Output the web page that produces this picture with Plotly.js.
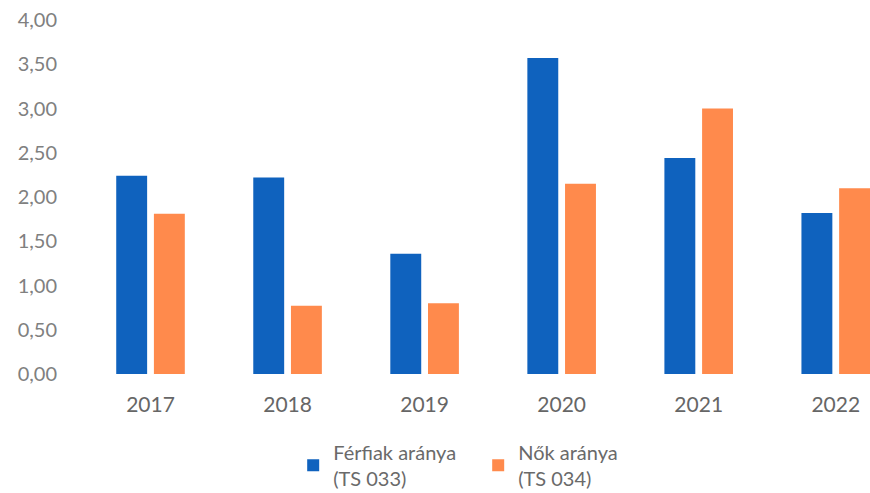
<!DOCTYPE html>
<html>
<head>
<meta charset="utf-8">
<script src="https://cdn.plot.ly/plotly-3.0.1.min.js"></script>
<style>
  html, body { margin: 0; padding: 0; background: #fff; }
  #myDiv { width: 870px; height: 493px; }
</style>
</head>
<body>
<div id="myDiv"></div>
<script>
var years = ['2017', '2018', '2019', '2020', '2021', '2022'];
var ferfiak = [2.24, 2.22, 1.36, 3.57, 2.44, 1.82];
var nok = [1.81, 0.77, 0.80, 2.15, 3.00, 2.10];
var yTicks = [0, 0.5, 1, 1.5, 2, 2.5, 3, 3.5, 4];

var trace1 = {
  x: years,
  y: ferfiak,
  name: 'Férfiak aránya<br>(TS 033)',
  type: 'bar',
  marker: {color: '#0F62BE'}
};

var trace2 = {
  x: years,
  y: nok,
  name: 'Nők aránya<br>(TS 034)',
  type: 'bar',
  marker: {color: '#FF8A4C'}
};

var data = [trace1, trace2];

var layout = {
  width: 870,
  height: 493,
  margin: {l: 82, r: 0, t: 20, b: 119},
  separators: ',.',
  barmode: 'group',
  bargap: 0.45,
  bargroupgap: 0.18,
  font: {family: 'Lato, sans-serif', color: '#7f7f7f', size: 20},
  paper_bgcolor: '#fff',
  plot_bgcolor: '#fff',
  xaxis: {
    type: 'category',
    range: [-0.5, 5.25],
    showgrid: false,
    showline: false,
    ticks: '',
    ticklabelstandoff: 16,
    tickfont: {size: 21, color: '#666'}
  },
  yaxis: {
    range: [0, 4],
    tickvals: yTicks,
    tickformat: '.2f',
    showgrid: false,
    zeroline: false,
    showline: false,
    ticks: '',
    ticklabelstandoff: 24,
    tickfont: {size: 20, color: '#808080'}
  },
  showlegend: true,
  legend: {
    orientation: 'h',
    xref: 'container',
    x: 0.337,
    xanchor: 'left',
    yref: 'container',
    y: 0.122,
    yanchor: 'top',
    entrywidth: 140,
    entrywidthmode: 'pixels',
    font: {size: 20, color: '#6a6a6a'},
    traceorder: 'normal'
  }
};

Plotly.newPlot('myDiv', data, layout, {staticPlot: true});
</script>
</body>
</html>
